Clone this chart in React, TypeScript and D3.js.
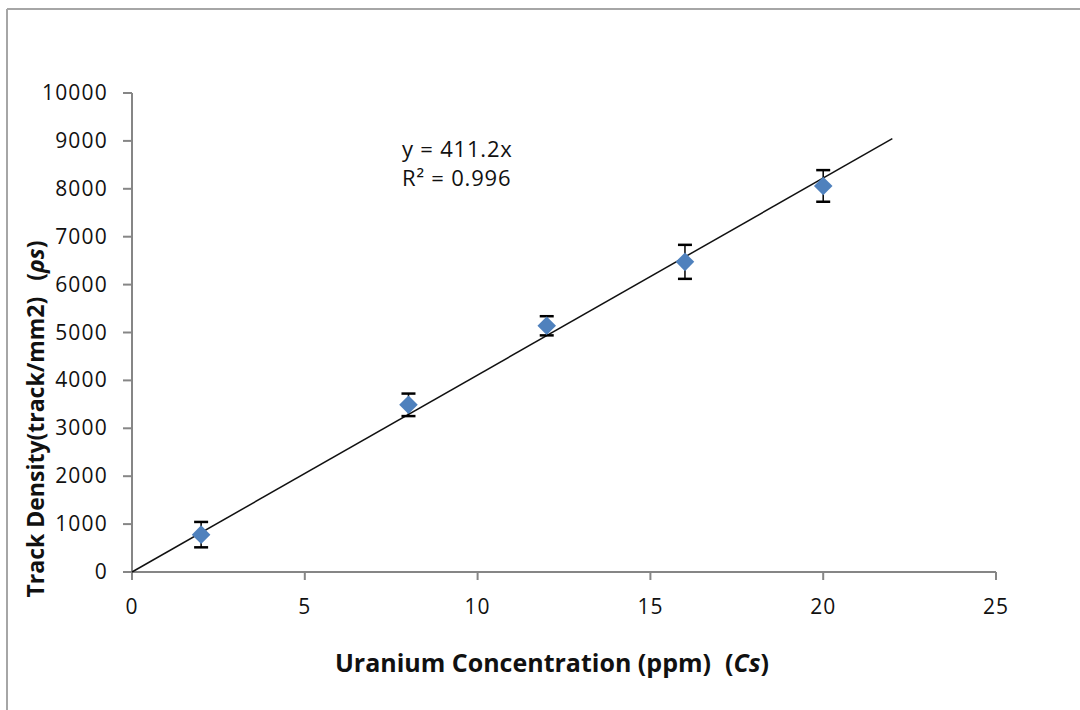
import React from "react";
import * as d3 from "d3";

const concentrations = [2, 8, 12, 16, 20];
const densities = [780, 3490, 5140, 6475, 8060];
const errors = [265, 235, 200, 355, 330];
const slope = 411.2;
const fitEnd = 22;
const xTicks = [0, 5, 10, 15, 20, 25];
const yTicks = [0, 1000, 2000, 3000, 4000, 5000, 6000, 7000, 8000, 9000, 10000];
const equationLines = ["y = 411.2x", "R² = 0.996"];

export default function App() {
  const W = 1080, H = 710;
  const x = d3.scaleLinear().domain([0, 25]).range([132, 996]);
  const y = d3.scaleLinear().domain([0, 10000]).range([572, 93]);
  const axisColor = "#868686";
  const font = "'Open Sans', Lato, sans-serif";
  const diamond = d3.symbol().type(d3.symbolDiamond2).size(220)();
  const line = d3.line<number>().x((d) => x(d)).y((d) => y(d * slope));

  return (
    <svg width={W} height={H} style={{ position: "absolute", left: 0, top: 0, background: "#fff" }} fontFamily={font}>
      {/* frame */}
      <line x1={7} y1={9} x2={W} y2={9} stroke="#a6a6a6" strokeWidth={2} />
      <line x1={7} y1={9} x2={7} y2={H} stroke="#a6a6a6" strokeWidth={2} />

      {/* axes */}
      <line x1={x(0)} y1={y(0)} x2={x(25)} y2={y(0)} stroke={axisColor} strokeWidth={2} />
      <line x1={x(0)} y1={y(0)} x2={x(0)} y2={y(10000)} stroke={axisColor} strokeWidth={2} />
      {xTicks.map((t) => (
        <g key={"x" + t}>
          <line x1={x(t)} x2={x(t)} y1={y(0)} y2={y(0) + 8} stroke={axisColor} strokeWidth={2} />
          <text x={x(t)} y={y(0) + 42} textAnchor="middle" fontSize={21} fill="#111" letterSpacing={1}>{t}</text>
        </g>
      ))}
      {yTicks.map((t) => (
        <g key={"y" + t}>
          <line x1={x(0) - 9} x2={x(0)} y1={y(t)} y2={y(t)} stroke={axisColor} strokeWidth={2} />
          <text x={108} y={y(t) + 7} textAnchor="end" fontSize={21} fill="#111" letterSpacing={1.2}>{t}</text>
        </g>
      ))}

      {/* trend line */}
      <path d={line([0, fitEnd]) || ""} stroke="#111" strokeWidth={1.5} fill="none" />

      {/* error bars */}
      {concentrations.map((c, i) => {
        const cx = x(c);
        const top = y(densities[i] + errors[i]);
        const bot = y(densities[i] - errors[i]);
        return (
          <g key={"e" + i} stroke="#000" strokeWidth={2.5}>
            <line x1={cx} x2={cx} y1={top} y2={bot} strokeWidth={1.5} />
            <line x1={cx - 7} x2={cx + 7} y1={top} y2={top} />
            <line x1={cx - 7} x2={cx + 7} y1={bot} y2={bot} />
          </g>
        );
      })}

      {/* points */}
      {concentrations.map((c, i) => (
        <path key={"p" + i} d={diamond || ""} transform={`translate(${x(c)},${y(densities[i])})`} fill="#4f81bd" />
      ))}

      {/* equation */}
      {equationLines.map((s, i) => (
        <text key={"eq" + i} x={402} y={157 + i * 29} fontSize={22} fill="#111" letterSpacing={0.8}>{s}</text>
      ))}

      {/* axis titles */}
      <text x={552} y={672} textAnchor="middle" fontSize={25} fontWeight="bold" fill="#111">
        Uranium Concentration (ppm)
        <tspan dx={14}>(</tspan>
        <tspan fontStyle="italic">Cs</tspan>
        <tspan>)</tspan>
      </text>
      <text transform="translate(44,419) rotate(-90)" textAnchor="middle" fontSize={23} fontWeight="bold" fill="#111">
        Track Density(track/mm2)
        <tspan dx={16}>(</tspan>
        <tspan fontStyle="italic">ρs</tspan>
        <tspan>)</tspan>
      </text>
    </svg>
  );
}
